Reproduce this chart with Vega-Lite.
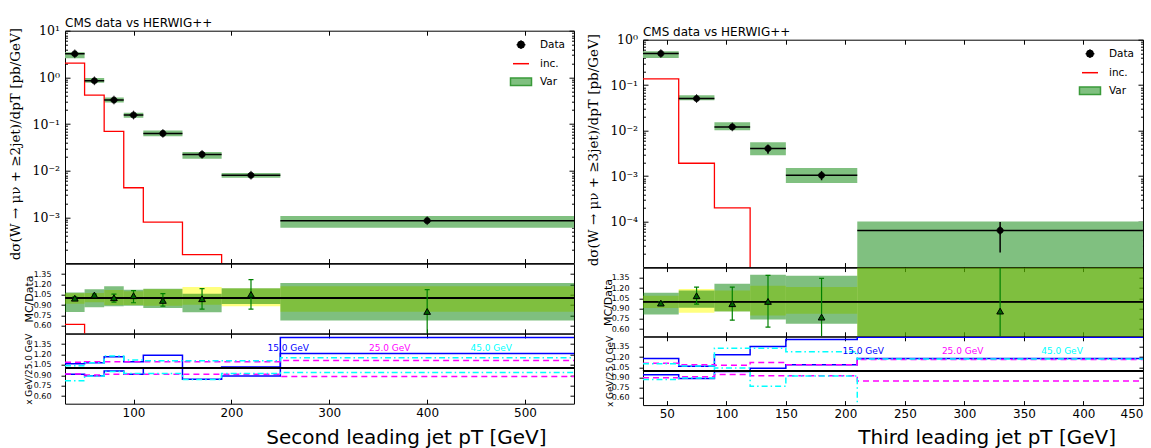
{
  "$schema": "https://vega.github.io/schema/vega-lite/v6.json",
  "background": "white",
  "padding": {"left": 7, "top": 15.7, "right": 2, "bottom": 2},
  "autosize": {"type": "pad"},
  "config": {
    "view": {"stroke": "black", "strokeWidth": 1},
    "axis": {"grid": false, "domain": false, "tickColor": "black", "tickWidth": 1, "labelColor": "black", "titleColor": "black", "labelFont": "DejaVu Sans", "titleFont": "DejaVu Sans", "titleFontWeight": "normal", "labelOverlap": false},
    "legend": {"labelFont": "DejaVu Sans", "labelColor": "black"},
    "title": {"font": "DejaVu Sans", "fontWeight": "normal", "color": "black"}
  },
  "datasets": {
    "top2": [
      {"lo": 30, "hi": 50, "mid": 40, "v": 3.2, "blo": 2.57, "bhi": 3.47, "elo": 3.1, "ehi": 3.3},
      {"lo": 50, "hi": 70, "mid": 60, "v": 0.845, "blo": 0.77, "bhi": 0.97, "elo": 0.82, "ehi": 0.87},
      {"lo": 70, "hi": 90, "mid": 80, "v": 0.327, "blo": 0.29, "bhi": 0.37, "elo": 0.318, "ehi": 0.336},
      {"lo": 90, "hi": 110, "mid": 100, "v": 0.156, "blo": 0.137, "bhi": 0.174, "elo": 0.151, "ehi": 0.161},
      {"lo": 110, "hi": 150, "mid": 130, "v": 0.063, "blo": 0.055, "bhi": 0.073, "elo": 0.061, "ehi": 0.065},
      {"lo": 150, "hi": 190, "mid": 170, "v": 0.0224, "blo": 0.0181, "bhi": 0.0251, "elo": 0.0217, "ehi": 0.0231},
      {"lo": 190, "hi": 250, "mid": 220, "v": 0.008, "blo": 0.0071, "bhi": 0.0089, "elo": 0.0077, "ehi": 0.0083},
      {"lo": 250, "hi": 550, "mid": 400, "v": 0.00085, "blo": 0.0006, "bhi": 0.00107, "elo": 0.00081, "ehi": 0.00089}
    ],
    "top3": [
      {"lo": 30, "hi": 60, "mid": 45, "v": 0.497, "blo": 0.398, "bhi": 0.558, "elo": 0.48, "ehi": 0.515},
      {"lo": 60, "hi": 90, "mid": 75, "v": 0.0508, "blo": 0.0467, "bhi": 0.06, "elo": 0.0443, "ehi": 0.058},
      {"lo": 90, "hi": 120, "mid": 105, "v": 0.0121, "blo": 0.0102, "bhi": 0.0153, "elo": 0.0113, "ehi": 0.0129},
      {"lo": 120, "hi": 150, "mid": 135, "v": 0.00404, "blo": 0.00288, "bhi": 0.00556, "elo": 0.0031, "ehi": 0.0047},
      {"lo": 150, "hi": 210, "mid": 180, "v": 0.00104, "blo": 0.00071, "bhi": 0.00151, "elo": 0.00081, "ehi": 0.00127},
      {"lo": 210, "hi": 450, "mid": 330, "v": 0.000064, "blo": 0.000001, "bhi": 0.0001, "elo": 0.000021, "ehi": 0.000098}
    ],
    "inc2": [
      {"x": 30, "y": 2.02}, {"x": 50, "y": 0.418}, {"x": 70, "y": 0.0697}, {"x": 90, "y": 0.00432},
      {"x": 110, "y": 0.00079}, {"x": 150, "y": 0.00016}, {"x": 190, "y": 0.0000001}, {"x": 250, "y": 0.0000001}
    ],
    "inc3": [
      {"x": 30, "y": 0.137}, {"x": 60, "y": 0.00192}, {"x": 90, "y": 0.0002}, {"x": 120, "y": 0.0000001}, {"x": 150, "y": 0.0000001}
    ],
    "rinc2": [{"x": 30, "y": 0.62}, {"x": 50, "y": 0.45}, {"x": 70, "y": 0.2}],
    "rat2": [
      {"lo": 30, "hi": 50, "mid": 40, "glo": 0.8, "ghi": 1.084, "ylo": 0.92, "yhi": 1.07, "r": 1.0, "rlo": 0.98, "rhi": 1.02},
      {"lo": 50, "hi": 70, "mid": 60, "glo": 0.87, "ghi": 1.13, "ylo": 0.94, "yhi": 1.075, "r": 1.046, "rlo": 1.03, "rhi": 1.06},
      {"lo": 70, "hi": 90, "mid": 80, "glo": 0.885, "ghi": 1.172, "ylo": 0.9, "yhi": 1.12, "r": 1.007, "rlo": 0.944, "rhi": 1.06},
      {"lo": 90, "hi": 110, "mid": 100, "glo": 0.89, "ghi": 1.123, "ylo": 0.9, "yhi": 1.1, "r": 1.036, "rlo": 0.934, "rhi": 1.109},
      {"lo": 110, "hi": 150, "mid": 130, "glo": 0.857, "ghi": 1.138, "ylo": 0.89, "yhi": 1.13, "r": 0.968, "rlo": 0.885, "rhi": 1.065},
      {"lo": 150, "hi": 190, "mid": 170, "glo": 0.798, "ghi": 1.065, "ylo": 0.905, "yhi": 1.162, "r": 0.992, "rlo": 0.842, "rhi": 1.138},
      {"lo": 190, "hi": 250, "mid": 220, "glo": 0.915, "ghi": 1.143, "ylo": 0.885, "yhi": 1.14, "r": 1.055, "rlo": 0.842, "rhi": 1.269},
      {"lo": 250, "hi": 550, "mid": 400, "glo": 0.677, "ghi": 1.22, "ylo": 0.803, "yhi": 1.172, "r": 0.808, "rlo": 0.3, "rhi": 1.124}
    ],
    "rat3": [
      {"lo": 30, "hi": 60, "mid": 45, "glo": 0.814, "ghi": 1.132, "ylo": 0.907, "yhi": 1.088, "r": 0.98, "rlo": 0.96, "rhi": 1.0},
      {"lo": 60, "hi": 90, "mid": 75, "glo": 0.912, "ghi": 1.167, "ylo": 0.838, "yhi": 1.186, "r": 1.088, "rlo": 0.966, "rhi": 1.216},
      {"lo": 90, "hi": 120, "mid": 105, "glo": 0.858, "ghi": 1.265, "ylo": 0.86, "yhi": 1.165, "r": 0.971, "rlo": 0.73, "rhi": 1.216},
      {"lo": 120, "hi": 150, "mid": 135, "glo": 0.74, "ghi": 1.397, "ylo": 0.8, "yhi": 1.235, "r": 1.005, "rlo": 0.628, "rhi": 1.387},
      {"lo": 150, "hi": 210, "mid": 180, "glo": 0.677, "ghi": 1.382, "ylo": 0.824, "yhi": 1.216, "r": 0.775, "rlo": 0.3, "rhi": 1.343},
      {"lo": 210, "hi": 450, "mid": 330, "glo": 0.3, "ghi": 1.8, "ylo": 0.3, "yhi": 1.8, "r": 0.863, "rlo": 0.3, "rhi": 1.8}
    ],
    "var2": [
      {"v": "15.0 GeV", "d": "up", "x": 30, "r": 1.067}, {"v": "15.0 GeV", "d": "up", "x": 50, "r": 1.082}, {"v": "15.0 GeV", "d": "up", "x": 70, "r": 1.168}, {"v": "15.0 GeV", "d": "up", "x": 90, "r": 1.096}, {"v": "15.0 GeV", "d": "up", "x": 110, "r": 1.188}, {"v": "15.0 GeV", "d": "up", "x": 150, "r": 1.0}, {"v": "15.0 GeV", "d": "up", "x": 190, "r": 1.019}, {"v": "15.0 GeV", "d": "up", "x": 250, "r": 1.446}, {"v": "15.0 GeV", "d": "up", "x": 550, "r": 1.446},
      {"v": "15.0 GeV", "d": "dn", "x": 30, "r": 0.913}, {"v": "15.0 GeV", "d": "dn", "x": 50, "r": 0.894}, {"v": "15.0 GeV", "d": "dn", "x": 70, "r": 0.962}, {"v": "15.0 GeV", "d": "dn", "x": 90, "r": 0.913}, {"v": "15.0 GeV", "d": "dn", "x": 110, "r": 1.0}, {"v": "15.0 GeV", "d": "dn", "x": 150, "r": 0.841}, {"v": "15.0 GeV", "d": "dn", "x": 190, "r": 0.889}, {"v": "15.0 GeV", "d": "dn", "x": 250, "r": 1.215}, {"v": "15.0 GeV", "d": "dn", "x": 550, "r": 1.215},
      {"v": "25.0 GeV", "d": "up", "x": 30, "r": 1.087}, {"v": "25.0 GeV", "d": "up", "x": 50, "r": 1.096}, {"v": "25.0 GeV", "d": "up", "x": 70, "r": 1.096}, {"v": "25.0 GeV", "d": "up", "x": 90, "r": 1.096}, {"v": "25.0 GeV", "d": "up", "x": 110, "r": 1.096}, {"v": "25.0 GeV", "d": "up", "x": 150, "r": 1.096}, {"v": "25.0 GeV", "d": "up", "x": 190, "r": 1.096}, {"v": "25.0 GeV", "d": "up", "x": 250, "r": 1.114}, {"v": "25.0 GeV", "d": "up", "x": 550, "r": 1.114},
      {"v": "25.0 GeV", "d": "dn", "x": 30, "r": 0.918}, {"v": "25.0 GeV", "d": "dn", "x": 50, "r": 0.904}, {"v": "25.0 GeV", "d": "dn", "x": 70, "r": 0.913}, {"v": "25.0 GeV", "d": "dn", "x": 90, "r": 0.913}, {"v": "25.0 GeV", "d": "dn", "x": 110, "r": 0.913}, {"v": "25.0 GeV", "d": "dn", "x": 150, "r": 0.913}, {"v": "25.0 GeV", "d": "dn", "x": 190, "r": 0.913}, {"v": "25.0 GeV", "d": "dn", "x": 250, "r": 0.883}, {"v": "25.0 GeV", "d": "dn", "x": 550, "r": 0.883},
      {"v": "45.0 GeV", "d": "up", "x": 30, "r": 1.037}, {"v": "45.0 GeV", "d": "up", "x": 50, "r": 1.08}, {"v": "45.0 GeV", "d": "up", "x": 70, "r": 1.178}, {"v": "45.0 GeV", "d": "up", "x": 90, "r": 1.12}, {"v": "45.0 GeV", "d": "up", "x": 110, "r": 1.11}, {"v": "45.0 GeV", "d": "up", "x": 150, "r": 1.11}, {"v": "45.0 GeV", "d": "up", "x": 190, "r": 1.11}, {"v": "45.0 GeV", "d": "up", "x": 250, "r": 1.153}, {"v": "45.0 GeV", "d": "up", "x": 550, "r": 1.153},
      {"v": "45.0 GeV", "d": "dn", "x": 30, "r": 0.82}, {"v": "45.0 GeV", "d": "dn", "x": 50, "r": 0.89}, {"v": "45.0 GeV", "d": "dn", "x": 70, "r": 0.955}, {"v": "45.0 GeV", "d": "dn", "x": 90, "r": 0.927}, {"v": "45.0 GeV", "d": "dn", "x": 110, "r": 0.927}, {"v": "45.0 GeV", "d": "dn", "x": 150, "r": 0.84}, {"v": "45.0 GeV", "d": "dn", "x": 190, "r": 0.927}, {"v": "45.0 GeV", "d": "dn", "x": 250, "r": 0.941}, {"v": "45.0 GeV", "d": "dn", "x": 550, "r": 0.941}
    ],
    "var3": [
      {"v": "15.0 GeV", "d": "up", "x": 30, "r": 1.179}, {"v": "15.0 GeV", "d": "up", "x": 60, "r": 1.066}, {"v": "15.0 GeV", "d": "up", "x": 90, "r": 1.233}, {"v": "15.0 GeV", "d": "up", "x": 120, "r": 1.355}, {"v": "15.0 GeV", "d": "up", "x": 150, "r": 1.458}, {"v": "15.0 GeV", "d": "up", "x": 210, "r": 1.49}, {"v": "15.0 GeV", "d": "up", "x": 450, "r": 1.49},
      {"v": "15.0 GeV", "d": "dn", "x": 30, "r": 0.939}, {"v": "15.0 GeV", "d": "dn", "x": 60, "r": 0.885}, {"v": "15.0 GeV", "d": "dn", "x": 90, "r": 0.988}, {"v": "15.0 GeV", "d": "dn", "x": 120, "r": 1.037}, {"v": "15.0 GeV", "d": "dn", "x": 150, "r": 1.086}, {"v": "15.0 GeV", "d": "dn", "x": 210, "r": 1.18}, {"v": "15.0 GeV", "d": "dn", "x": 450, "r": 1.18},
      {"v": "25.0 GeV", "d": "up", "x": 30, "r": 1.11}, {"v": "25.0 GeV", "d": "up", "x": 60, "r": 1.086}, {"v": "25.0 GeV", "d": "up", "x": 90, "r": 1.08}, {"v": "25.0 GeV", "d": "up", "x": 120, "r": 1.12}, {"v": "25.0 GeV", "d": "up", "x": 150, "r": 1.086}, {"v": "25.0 GeV", "d": "up", "x": 210, "r": 1.165}, {"v": "25.0 GeV", "d": "up", "x": 450, "r": 1.165},
      {"v": "25.0 GeV", "d": "dn", "x": 30, "r": 0.895}, {"v": "25.0 GeV", "d": "dn", "x": 60, "r": 0.909}, {"v": "25.0 GeV", "d": "dn", "x": 90, "r": 0.944}, {"v": "25.0 GeV", "d": "dn", "x": 120, "r": 0.924}, {"v": "25.0 GeV", "d": "dn", "x": 150, "r": 0.924}, {"v": "25.0 GeV", "d": "dn", "x": 210, "r": 0.846}, {"v": "25.0 GeV", "d": "dn", "x": 450, "r": 0.846},
      {"v": "45.0 GeV", "d": "up", "x": 30, "r": 1.1}, {"v": "45.0 GeV", "d": "up", "x": 60, "r": 1.07}, {"v": "45.0 GeV", "d": "up", "x": 90, "r": 1.33}, {"v": "45.0 GeV", "d": "up", "x": 120, "r": 1.33}, {"v": "45.0 GeV", "d": "up", "x": 150, "r": 1.28}, {"v": "45.0 GeV", "d": "up", "x": 210, "r": 1.17}, {"v": "45.0 GeV", "d": "up", "x": 450, "r": 1.17},
      {"v": "45.0 GeV", "d": "dn", "x": 30, "r": 0.87}, {"v": "45.0 GeV", "d": "dn", "x": 60, "r": 0.89}, {"v": "45.0 GeV", "d": "dn", "x": 90, "r": 1.04}, {"v": "45.0 GeV", "d": "dn", "x": 120, "r": 0.77}, {"v": "45.0 GeV", "d": "dn", "x": 150, "r": 0.92}, {"v": "45.0 GeV", "d": "dn", "x": 210, "r": 0.3}, {"v": "45.0 GeV", "d": "dn", "x": 450, "r": 0.3}
    ]
  },
  "bounds": "full",
  "spacing": 9,
  "resolve": {"scale": {"fill": "independent", "stroke": "independent", "shape": "independent", "strokeDash": "independent", "color": "independent"}},
  "hconcat": [
    {
      "bounds": "flush",
      "spacing": 0,
      "resolve": {"scale": {"fill": "independent", "stroke": "independent", "shape": "independent", "strokeDash": "independent", "color": "independent"}},
      "vconcat": [
        {
          "width": 509, "height": 232.4,
          "title": {"text": "CMS data vs HERWIG++", "anchor": "start", "fontSize": 12, "offset": -5.4, "frame": "group"},
          "data": {"name": "top2"},
          "resolve": {"axis": {"x": "independent", "y": "independent"}},
          "layer": [
            {
              "mark": {"type": "rect", "clip": true},
              "encoding": {
                "x": {"field": "lo", "type": "quantitative", "scale": {"domain": [30, 550], "nice": false, "zero": false}, "axis": {"orient": "bottom", "values": [100, 200, 300, 400, 500], "labels": false, "title": null, "tickSize": 9, "offset": -4.5}},
                "x2": {"field": "hi"},
                "y": {"field": "blo", "type": "quantitative", "scale": {"type": "log", "domain": [0.000105, 10], "nice": false},
                  "axis": {"orient": "left", "values": [0.0002,0.0003,0.0004,0.0005,0.0006,0.0007,0.0008,0.0009,0.001,0.002,0.003,0.004,0.005,0.006,0.007,0.008,0.009,0.01,0.02,0.03,0.04,0.05,0.06,0.07,0.08,0.09,0.1,0.2,0.3,0.4,0.5,0.6,0.7,0.8,0.9,1,2,3,4,5,6,7,8,9,10],
                    "tickSize": {"condition": {"test": "abs(log(datum.value)/LN10-round(log(datum.value)/LN10))<0.001", "value": -5}, "value": -2.5},
                    "labelExpr": "indexof([10,1,0.1,0.01,0.001,0.0001,0.00001], datum.value) >= 0 ? ['10¹','10⁰','10⁻¹','10⁻²','10⁻³','10⁻⁴','10⁻⁵'][indexof([10,1,0.1,0.01,0.001,0.0001,0.00001], datum.value)] : ''",
                    "labelFont": "DejaVu Serif", "labelFontSize": 12.5, "labelPadding": 10.5,
                    "title": "dσ(W → μν + ≥2jet)/dpT [pb/GeV]", "titleFont": "DejaVu Serif", "titleFontSize": 13.5,
                    "titleAngle": -90, "titleX": -50, "titleY": 113, "titleAlign": "center", "titleBaseline": "middle"}},
                "y2": {"field": "bhi"},
                "fill": {"datum": "Var", "type": "nominal", "scale": {"domain": ["Data", "inc.", "Var"], "range": ["black", "red", "#80c080"]},
                  "legend": {"title": null, "orient": "top-right", "offset": 8, "padding": 0, "labelFontSize": 10.5, "symbolSize": 100, "labelOffset": 13, "rowPadding": 5, "symbolStrokeWidth": 1.5}}
              }
            },
            {
              "data": {"name": "inc2"},
              "mark": {"type": "line", "interpolate": "step-after", "clip": true, "strokeWidth": 1.3},
              "encoding": {
                "x": {"field": "x", "type": "quantitative", "axis": null},
                "y": {"field": "y", "type": "quantitative", "axis": null},
                "stroke": {"datum": "inc.", "type": "nominal", "scale": {"domain": ["Data", "inc.", "Var"], "range": ["black", "red", "#3a9a3a"]},
                  "legend": {"title": null, "orient": "top-right", "offset": 8, "padding": 0, "labelFontSize": 10.5, "symbolSize": 100, "labelOffset": 13, "rowPadding": 5, "symbolStrokeWidth": 1.5}}
              }
            },
            {
              "mark": {"type": "rule", "color": "black", "strokeWidth": 1.5, "clip": true},
              "encoding": {"x": {"field": "lo", "type": "quantitative", "axis": null}, "x2": {"field": "hi"}, "y": {"field": "v", "type": "quantitative", "axis": null}}
            },
            {
              "mark": {"type": "rule", "color": "black", "strokeWidth": 1.5, "clip": true},
              "encoding": {"x": {"field": "mid", "type": "quantitative", "axis": null}, "y": {"field": "elo", "type": "quantitative", "axis": null}, "y2": {"field": "ehi"}}
            },
            {
              "mark": {"type": "point", "filled": true, "size": 100, "strokeWidth": 0.8, "opacity": 1, "clip": true},
              "encoding": {
                "x": {"field": "mid", "type": "quantitative", "axis": {"orient": "top", "values": [100, 200, 300, 400, 500], "labels": false, "title": null, "tickSize": -4.5}},
                "y": {"field": "v", "type": "quantitative", "axis": {"orient": "right", "values": [0.0002,0.0003,0.0004,0.0005,0.0006,0.0007,0.0008,0.0009,0.001,0.002,0.003,0.004,0.005,0.006,0.007,0.008,0.009,0.01,0.02,0.03,0.04,0.05,0.06,0.07,0.08,0.09,0.1,0.2,0.3,0.4,0.5,0.6,0.7,0.8,0.9,1,2,3,4,5,6,7,8,9,10], "labels": false, "title": null,
                  "tickSize": {"condition": {"test": "abs(log(datum.value)/LN10-round(log(datum.value)/LN10))<0.001", "value": -5}, "value": -2.5}}},
                "shape": {"datum": "Data", "type": "nominal", "scale": {"domain": ["Data", "inc.", "Var"], "range": ["M-0.88,0L0.88,0M0,-0.88L0,0.88M0.62,0C0.62,0.342,0.342,0.62,0,0.62C-0.342,0.62,-0.62,0.342,-0.62,0C-0.62,-0.342,-0.342,-0.62,0,-0.62C0.342,-0.62,0.62,-0.342,0.62,0Z", "M-1.6,0L1.6,0", "M-2.1,-0.75L2.1,-0.75L2.1,0.75L-2.1,0.75Z"]},
                  "legend": {"title": null, "orient": "top-right", "offset": 8, "padding": 0, "labelFontSize": 10.5, "symbolSize": 100, "labelOffset": 13, "rowPadding": 5, "symbolStrokeWidth": 1.5}},
                "fill": {"datum": "Data", "type": "nominal"},
                "stroke": {"datum": "Data", "type": "nominal"}
              }
            }
          ]
        },
        {
          "width": 509, "height": 69.7,
          "data": {"name": "rat2"},
          "resolve": {"axis": {"x": "independent", "y": "independent"}},
          "layer": [
            {
              "mark": {"type": "rect", "clip": true, "color": "#ffff00", "opacity": 0.5},
              "encoding": {
                "x": {"field": "lo", "type": "quantitative", "scale": {"domain": [30, 550], "nice": false, "zero": false}, "axis": {"orient": "bottom", "values": [100, 200, 300, 400, 500], "labels": false, "title": null, "tickSize": 9, "offset": -4.5}},
                "x2": {"field": "hi"},
                "y": {"field": "ylo", "type": "quantitative", "scale": {"domain": [0.49, 1.5], "nice": false, "zero": false},
                  "axis": {"orient": "left", "values": [0.6, 0.75, 0.9, 1.05, 1.2, 1.35], "format": ".2f", "tickSize": 4, "labelFontSize": 8, "labelPadding": 10,
                    "title": "MC/Data", "titleFontSize": 11, "titleAngle": -90, "titleX": -36, "titleY": 34.85, "titleAlign": "center", "titleBaseline": "middle"}},
                "y2": {"field": "yhi"}
              }
            },
            {
              "mark": {"type": "rect", "clip": true, "color": "#008000", "opacity": 0.5},
              "encoding": {
                "x": {"field": "lo", "type": "quantitative", "axis": null},
                "x2": {"field": "hi"},
                "y": {"field": "glo", "type": "quantitative", "axis": {"orient": "right", "values": [0.6, 0.75, 0.9, 1.05, 1.2, 1.35], "labels": false, "title": null, "tickSize": -4}},
                "y2": {"field": "ghi"}
              }
            },
            {"mark": {"type": "rule", "color": "black", "strokeWidth": 1.2}, "encoding": {"y": {"datum": 1, "type": "quantitative", "axis": null}}},
            {
              "data": {"name": "rinc2"},
              "mark": {"type": "line", "interpolate": "step-after", "clip": true, "color": "red", "strokeWidth": 1.3},
              "encoding": {"x": {"field": "x", "type": "quantitative", "axis": null}, "y": {"field": "y", "type": "quantitative", "axis": null}}
            },
            {
              "mark": {"type": "rule", "clip": true, "color": "#008000", "strokeWidth": 1.2},
              "encoding": {"x": {"field": "mid", "type": "quantitative", "axis": null}, "y": {"field": "rlo", "type": "quantitative", "axis": null}, "y2": {"field": "rhi"}}
            },
            {
              "mark": {"type": "tick", "orient": "horizontal", "clip": true, "color": "#008000", "size": 5, "thickness": 1.2, "opacity": 1},
              "encoding": {"x": {"field": "mid", "type": "quantitative", "axis": null}, "y": {"field": "rlo", "type": "quantitative", "axis": null}}
            },
            {
              "mark": {"type": "tick", "orient": "horizontal", "clip": true, "color": "#008000", "size": 5, "thickness": 1.2, "opacity": 1},
              "encoding": {"x": {"field": "mid", "type": "quantitative", "axis": null}, "y": {"field": "rhi", "type": "quantitative", "axis": null}}
            },
            {
              "mark": {"type": "point", "shape": "triangle-up", "filled": true, "fill": "#006400", "stroke": "black", "strokeWidth": 1, "size": 45, "opacity": 1, "clip": true},
              "encoding": {"x": {"field": "mid", "type": "quantitative", "axis": null}, "y": {"field": "r", "type": "quantitative", "axis": null}}
            }
          ]
        },
        {
          "width": 509, "height": 70,
          "data": {"name": "var2"},
          "resolve": {"axis": {"x": "independent", "y": "independent"}},
          "layer": [
            {
              "mark": {"type": "line", "interpolate": "step-after", "clip": true, "strokeWidth": 1.5},
              "encoding": {
                "x": {"field": "x", "type": "quantitative", "scale": {"domain": [30, 550], "nice": false, "zero": false},
                  "axis": {"orient": "bottom", "values": [100, 200, 300, 400, 500], "tickSize": -4.5, "labelFontSize": 12, "labelPadding": 8,
                    "title": "Second leading jet pT [GeV]", "titleFontSize": 20, "titleAlign": "right", "titleX": 481, "titleY": 39.5, "titleBaseline": "alphabetic", "titleAngle": 0}},
                "y": {"field": "r", "type": "quantitative", "scale": {"domain": [0.49, 1.5], "nice": false, "zero": false},
                  "axis": {"orient": "left", "values": [0.6, 0.75, 0.9, 1.05, 1.2, 1.35], "format": ".2f", "tickSize": 4, "labelFontSize": 8, "labelPadding": 10,
                    "title": "x GeV/25.0 GeV", "titleFontSize": 9, "titleAngle": -90, "titleX": -37, "titleY": 35, "titleAlign": "center", "titleBaseline": "middle"}},
                "stroke": {"field": "v", "type": "nominal", "scale": {"domain": ["15.0 GeV", "25.0 GeV", "45.0 GeV"], "range": ["#0000ff", "#ff00ff", "#00ffff"]},
                  "legend": {"orient": "none", "legendX": 193.5, "legendY": 9.8, "direction": "horizontal", "columns": 3, "title": null, "symbolSize": 0, "symbolOpacity": 0, "symbolStrokeWidth": 0, "labelOffset": 0, "labelFontSize": 9, "columnPadding": 50.5, "padding": 0,
                    "encode": {"labels": {"update": {"fill": {"signal": "datum.value === '15.0 GeV' ? '#0000ff' : datum.value === '25.0 GeV' ? '#ff00ff' : '#00ffff'"}}}}}},
                "strokeDash": {"field": "v", "type": "nominal", "scale": {"domain": ["15.0 GeV", "25.0 GeV", "45.0 GeV"], "range": [[1, 0], [6, 4], [6, 3, 1.5, 3]]}, "legend": null},
                "detail": {"field": "d"}
              }
            },
            {"mark": {"type": "rule", "color": "black", "strokeWidth": 1.2}, "encoding": {"y": {"datum": 1, "type": "quantitative", "axis": {"orient": "right", "values": [0.6, 0.75, 0.9, 1.05, 1.2, 1.35], "labels": false, "title": null, "tickSize": -4}}}}
          ]
        }
      ]
    },
    {
      "bounds": "flush",
      "spacing": 0,
      "resolve": {"scale": {"fill": "independent", "stroke": "independent", "shape": "independent", "strokeDash": "independent", "color": "independent"}},
      "vconcat": [
        {
          "width": 500, "height": 9,
          "view": {"stroke": null, "fill": "white"},
          "data": {"values": []},
          "mark": "point"
        },
        {
          "width": 500, "height": 227.4,
          "title": {"text": "CMS data vs HERWIG++", "anchor": "start", "fontSize": 12, "offset": -5.4, "frame": "group"},
          "data": {"name": "top3"},
          "resolve": {"axis": {"x": "independent", "y": "independent"}},
          "layer": [
            {
              "mark": {"type": "rect", "clip": true},
              "encoding": {
                "x": {"field": "lo", "type": "quantitative", "scale": {"domain": [30, 450], "nice": false, "zero": false}, "axis": {"orient": "bottom", "values": [50, 100, 150, 200, 250, 300, 350, 400, 450], "labels": false, "title": null, "tickSize": 9, "offset": -4.5}},
                "x2": {"field": "hi"},
                "y": {"field": "blo", "type": "quantitative", "scale": {"type": "log", "domain": [0.00001, 1], "nice": false},
                  "axis": {"orient": "left", "values": [0.00002,0.00003,0.00004,0.00005,0.00006,0.00007,0.00008,0.00009,0.0001,0.0002,0.0003,0.0004,0.0005,0.0006,0.0007,0.0008,0.0009,0.001,0.002,0.003,0.004,0.005,0.006,0.007,0.008,0.009,0.01,0.02,0.03,0.04,0.05,0.06,0.07,0.08,0.09,0.1,0.2,0.3,0.4,0.5,0.6,0.7,0.8,0.9,1],
                    "tickSize": {"condition": {"test": "abs(log(datum.value)/LN10-round(log(datum.value)/LN10))<0.001", "value": -5}, "value": -2.5},
                    "labelExpr": "indexof([10,1,0.1,0.01,0.001,0.0001,0.00001], datum.value) >= 0 ? ['10¹','10⁰','10⁻¹','10⁻²','10⁻³','10⁻⁴','10⁻⁵'][indexof([10,1,0.1,0.01,0.001,0.0001,0.00001], datum.value)] : ''",
                    "labelFont": "DejaVu Serif", "labelFontSize": 12.5, "labelPadding": 10.5,
                    "title": "dσ(W → μν + ≥3jet)/dpT [pb/GeV]", "titleFont": "DejaVu Serif", "titleFontSize": 13.5,
                    "titleAngle": -90, "titleX": -49.5, "titleY": 110, "titleAlign": "center", "titleBaseline": "middle"}},
                "y2": {"field": "bhi"},
                "fill": {"datum": "Var", "type": "nominal", "scale": {"domain": ["Data", "inc.", "Var"], "range": ["black", "red", "#80c080"]},
                  "legend": {"title": null, "orient": "top-right", "offset": 8, "padding": 0, "labelFontSize": 10.5, "symbolSize": 100, "labelOffset": 13, "rowPadding": 5, "symbolStrokeWidth": 1.5}}
              }
            },
            {
              "data": {"name": "inc3"},
              "mark": {"type": "line", "interpolate": "step-after", "clip": true, "strokeWidth": 1.3},
              "encoding": {
                "x": {"field": "x", "type": "quantitative", "axis": null},
                "y": {"field": "y", "type": "quantitative", "axis": null},
                "stroke": {"datum": "inc.", "type": "nominal", "scale": {"domain": ["Data", "inc.", "Var"], "range": ["black", "red", "#3a9a3a"]},
                  "legend": {"title": null, "orient": "top-right", "offset": 8, "padding": 0, "labelFontSize": 10.5, "symbolSize": 100, "labelOffset": 13, "rowPadding": 5, "symbolStrokeWidth": 1.5}}
              }
            },
            {
              "mark": {"type": "rule", "color": "black", "strokeWidth": 1.5, "clip": true},
              "encoding": {"x": {"field": "lo", "type": "quantitative", "axis": null}, "x2": {"field": "hi"}, "y": {"field": "v", "type": "quantitative", "axis": null}}
            },
            {
              "mark": {"type": "rule", "color": "black", "strokeWidth": 1.5, "clip": true},
              "encoding": {"x": {"field": "mid", "type": "quantitative", "axis": null}, "y": {"field": "elo", "type": "quantitative", "axis": null}, "y2": {"field": "ehi"}}
            },
            {
              "mark": {"type": "point", "filled": true, "size": 100, "strokeWidth": 0.8, "opacity": 1, "clip": true},
              "encoding": {
                "x": {"field": "mid", "type": "quantitative", "axis": {"orient": "top", "values": [50, 100, 150, 200, 250, 300, 350, 400, 450], "labels": false, "title": null, "tickSize": -4.5}},
                "y": {"field": "v", "type": "quantitative", "axis": {"orient": "right", "values": [0.00002,0.00003,0.00004,0.00005,0.00006,0.00007,0.00008,0.00009,0.0001,0.0002,0.0003,0.0004,0.0005,0.0006,0.0007,0.0008,0.0009,0.001,0.002,0.003,0.004,0.005,0.006,0.007,0.008,0.009,0.01,0.02,0.03,0.04,0.05,0.06,0.07,0.08,0.09,0.1,0.2,0.3,0.4,0.5,0.6,0.7,0.8,0.9,1], "labels": false, "title": null,
                  "tickSize": {"condition": {"test": "abs(log(datum.value)/LN10-round(log(datum.value)/LN10))<0.001", "value": -5}, "value": -2.5}}},
                "shape": {"datum": "Data", "type": "nominal", "scale": {"domain": ["Data", "inc.", "Var"], "range": ["M-0.88,0L0.88,0M0,-0.88L0,0.88M0.62,0C0.62,0.342,0.342,0.62,0,0.62C-0.342,0.62,-0.62,0.342,-0.62,0C-0.62,-0.342,-0.342,-0.62,0,-0.62C0.342,-0.62,0.62,-0.342,0.62,0Z", "M-1.6,0L1.6,0", "M-2.1,-0.75L2.1,-0.75L2.1,0.75L-2.1,0.75Z"]},
                  "legend": {"title": null, "orient": "top-right", "offset": 8, "padding": 0, "labelFontSize": 10.5, "symbolSize": 100, "labelOffset": 13, "rowPadding": 5, "symbolStrokeWidth": 1.5}},
                "fill": {"datum": "Data", "type": "nominal"},
                "stroke": {"datum": "Data", "type": "nominal"}
              }
            }
          ]
        },
        {
          "width": 500, "height": 68.6,
          "data": {"name": "rat3"},
          "resolve": {"axis": {"x": "independent", "y": "independent"}},
          "layer": [
            {
              "mark": {"type": "rect", "clip": true, "color": "#ffff00", "opacity": 0.5},
              "encoding": {
                "x": {"field": "lo", "type": "quantitative", "scale": {"domain": [30, 450], "nice": false, "zero": false}, "axis": {"orient": "bottom", "values": [50, 100, 150, 200, 250, 300, 350, 400, 450], "labels": false, "title": null, "tickSize": 9, "offset": -4.5}},
                "x2": {"field": "hi"},
                "y": {"field": "ylo", "type": "quantitative", "scale": {"domain": [0.493, 1.5], "nice": false, "zero": false},
                  "axis": {"orient": "left", "values": [0.6, 0.75, 0.9, 1.05, 1.2, 1.35], "format": ".2f", "tickSize": 4, "labelFontSize": 8, "labelPadding": 10,
                    "title": "MC/Data", "titleFontSize": 11, "titleAngle": -90, "titleX": -34.5, "titleY": 34.3, "titleAlign": "center", "titleBaseline": "middle"}},
                "y2": {"field": "yhi"}
              }
            },
            {
              "mark": {"type": "rect", "clip": true, "color": "#008000", "opacity": 0.5},
              "encoding": {
                "x": {"field": "lo", "type": "quantitative", "axis": null},
                "x2": {"field": "hi"},
                "y": {"field": "glo", "type": "quantitative", "axis": {"orient": "right", "values": [0.6, 0.75, 0.9, 1.05, 1.2, 1.35], "labels": false, "title": null, "tickSize": -4}},
                "y2": {"field": "ghi"}
              }
            },
            {"mark": {"type": "rule", "color": "black", "strokeWidth": 1.2}, "encoding": {"y": {"datum": 1, "type": "quantitative", "axis": null}}},
            {
              "mark": {"type": "rule", "clip": true, "color": "#008000", "strokeWidth": 1.2},
              "encoding": {"x": {"field": "mid", "type": "quantitative", "axis": null}, "y": {"field": "rlo", "type": "quantitative", "axis": null}, "y2": {"field": "rhi"}}
            },
            {
              "mark": {"type": "tick", "orient": "horizontal", "clip": true, "color": "#008000", "size": 5, "thickness": 1.2, "opacity": 1},
              "encoding": {"x": {"field": "mid", "type": "quantitative", "axis": null}, "y": {"field": "rlo", "type": "quantitative", "axis": null}}
            },
            {
              "mark": {"type": "tick", "orient": "horizontal", "clip": true, "color": "#008000", "size": 5, "thickness": 1.2, "opacity": 1},
              "encoding": {"x": {"field": "mid", "type": "quantitative", "axis": null}, "y": {"field": "rhi", "type": "quantitative", "axis": null}}
            },
            {
              "mark": {"type": "point", "shape": "triangle-up", "filled": true, "fill": "#006400", "stroke": "black", "strokeWidth": 1, "size": 45, "opacity": 1, "clip": true},
              "encoding": {"x": {"field": "mid", "type": "quantitative", "axis": null}, "y": {"field": "r", "type": "quantitative", "axis": null}}
            }
          ]
        },
        {
          "width": 500, "height": 68.4,
          "data": {"name": "var3"},
          "resolve": {"axis": {"x": "independent", "y": "independent"}},
          "layer": [
            {
              "mark": {"type": "line", "interpolate": "step-after", "clip": true, "strokeWidth": 1.5},
              "encoding": {
                "x": {"field": "x", "type": "quantitative", "scale": {"domain": [30, 450], "nice": false, "zero": false},
                  "axis": {"orient": "bottom", "values": [50, 100, 150, 200, 250, 300, 350, 400, 450], "tickSize": -4.5, "labelFontSize": 12, "labelPadding": 8,
                    "title": "Third leading jet pT [GeV]", "titleFontSize": 20, "titleAlign": "right", "titleX": 472.5, "titleY": 38, "titleBaseline": "alphabetic", "titleAngle": 0}},
                "y": {"field": "r", "type": "quantitative", "scale": {"domain": [0.493, 1.5], "nice": false, "zero": false},
                  "axis": {"orient": "left", "values": [0.6, 0.75, 0.9, 1.05, 1.2, 1.35], "format": ".2f", "tickSize": 4, "labelFontSize": 8, "labelPadding": 10,
                    "title": "x GeV/25.0 GeV", "titleFontSize": 9, "titleAngle": -90, "titleX": -33, "titleY": 34.2, "titleAlign": "center", "titleBaseline": "middle"}},
                "stroke": {"field": "v", "type": "nominal", "scale": {"domain": ["15.0 GeV", "25.0 GeV", "45.0 GeV"], "range": ["#0000ff", "#ff00ff", "#00ffff"]},
                  "legend": {"orient": "none", "legendX": 190.5, "legendY": 9.2, "direction": "horizontal", "columns": 3, "title": null, "symbolSize": 0, "symbolOpacity": 0, "symbolStrokeWidth": 0, "labelOffset": 0, "labelFontSize": 9, "columnPadding": 48.4, "padding": 0,
                    "encode": {"labels": {"update": {"fill": {"signal": "datum.value === '15.0 GeV' ? '#0000ff' : datum.value === '25.0 GeV' ? '#ff00ff' : '#00ffff'"}}}}}},
                "strokeDash": {"field": "v", "type": "nominal", "scale": {"domain": ["15.0 GeV", "25.0 GeV", "45.0 GeV"], "range": [[1, 0], [6, 4], [6, 3, 1.5, 3]]}, "legend": null},
                "detail": {"field": "d"}
              }
            },
            {"mark": {"type": "rule", "color": "black", "strokeWidth": 1.2}, "encoding": {"y": {"datum": 1, "type": "quantitative", "axis": {"orient": "right", "values": [0.6, 0.75, 0.9, 1.05, 1.2, 1.35], "labels": false, "title": null, "tickSize": -4}}}}
          ]
        }
      ]
    }
  ]
}
